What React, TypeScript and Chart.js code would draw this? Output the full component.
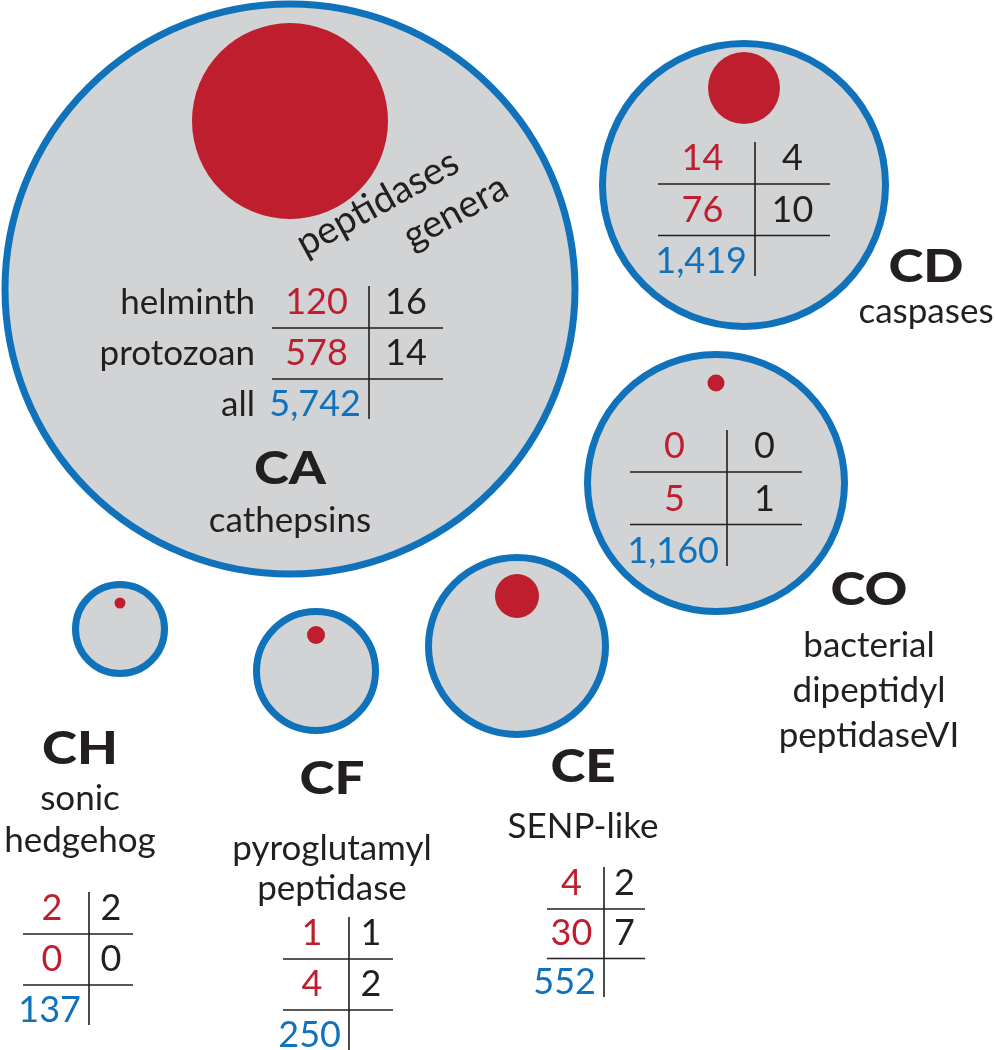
import React, { useEffect, useRef } from 'react';
import { Chart, registerables } from 'chart.js';

Chart.register(...registerables);

// ---------- data ----------
const families = ['CA', 'CD', 'CO', 'CE', 'CF', 'CH'];
const familyNames = [
  ['cathepsins'],
  ['caspases'],
  ['bacterial', 'dipeptidyl', 'peptidaseVI'],
  ['SENP-like'],
  ['pyroglutamyl', 'peptidase'],
  ['sonic', 'hedgehog'],
];
const helminthPeptidases = [120, 14, 0, 4, 1, 2];
const protozoanPeptidases = [578, 76, 5, 30, 4, 0];
const helminthGenera = [16, 4, 0, 2, 1, 2];
const protozoanGenera = [14, 10, 1, 7, 2, 0];
const allPeptidases = [5742, 1419, 1160, 552, 250, 137];
const rowLabels = ['helminth', 'protozoan', 'all'];
const columnHeaders = ['peptidases', 'genera'];

// ---------- layout (pixels in a 995 x 1050 frame) ----------
const circleX = [290, 744, 716, 517, 316, 120];
const circleY = [289, 185, 483, 646, 671, 629];
const circleR = [285, 141.5, 128.5, 88.5, 59.5, 44.5];
const dotY = [121, 88, 383, 596, 635, 603];
const dotR = [98, 36, 8.5, 22, 9, 5.5];
const tableX = [369, 755, 727, 604, 349, 89];
const tableL = [272, 658, 630, 547, 283, 23];
const tableR = [443, 830, 802, 645, 393, 133];
const tableTop = [314, 170, 458, 895, 945, 920];
const tablePitch = [51, 51.5, 52.5, 49.5, 51, 51];
const codeX = [290, 926, 869, 583, 332, 80];
const codeY = [484, 282, 605, 782, 794, 764];
const nameY = [532, 323, 657, 838, 860, 810];
const nameGap = [0, 0, 45, 0, 40, 42];
const headerX = [305, 412];
const headerY = [257, 250];

const RED = '#be1e2d';
const BLUE = '#0f72ba';
const GRAY = '#d1d3d4';
const INK = '#231f20';
const FONT = 'Lato, "Open Sans", "Noto Sans", sans-serif';

const textPlugin = {
  id: 'peptidaseText',
  afterDatasetsDraw(chart: any) {
    const ctx = chart.ctx as CanvasRenderingContext2D;
    const xs = chart.scales.x;
    const ys = chart.scales.y;
    const px = (v: number) => xs.getPixelForValue(v);
    const py = (v: number) => ys.getPixelForValue(v);
    const fmt = (n: number) => n.toLocaleString('en-US');

    ctx.save();
    ctx.textBaseline = 'alphabetic';
    families.forEach((code, i) => {
      const vx = px(tableX[i]);
      const l = px(tableL[i]);
      const r = px(tableR[i]);
      const p = tablePitch[i];
      const b = [py(tableTop[i]), py(tableTop[i] + p), py(tableTop[i] + 2 * p)];

      // grid lines
      ctx.strokeStyle = INK;
      ctx.lineWidth = 1.6;
      ctx.beginPath();
      ctx.moveTo(l, b[0] + 14);
      ctx.lineTo(r, b[0] + 14);
      ctx.moveTo(l, b[1] + 14);
      ctx.lineTo(r, b[1] + 14);
      ctx.moveTo(vx, b[0] - 28);
      ctx.lineTo(vx, b[2] + 3);
      ctx.stroke();

      ctx.font = `400 36px ${FONT}`;
      const lc = (l + vx) / 2 - 4;
      const rc = (vx + r) / 2;
      ctx.textAlign = 'center';
      ctx.fillStyle = RED;
      ctx.fillText(String(helminthPeptidases[i]), lc, b[0]);
      ctx.fillText(String(protozoanPeptidases[i]), lc, b[1]);
      ctx.fillStyle = INK;
      ctx.fillText(String(helminthGenera[i]), rc, b[0]);
      ctx.fillText(String(protozoanGenera[i]), rc, b[1]);
      ctx.textAlign = 'right';
      ctx.fillStyle = BLUE;
      ctx.fillText(fmt(allPeptidases[i]), vx - 8, b[2]);

      if (i === 0) {
        ctx.fillStyle = INK;
        ctx.font = `400 35px ${FONT}`;
        ctx.textAlign = 'right';
        rowLabels.forEach((lab, k) => ctx.fillText(lab, l - 17, b[k]));
        ctx.textAlign = 'left';
        ctx.font = `400 38px ${FONT}`;
        const ang = -29 * Math.PI / 180;
        columnHeaders.forEach((h, k) => {
          ctx.save();
          ctx.translate(px(headerX[k]), py(headerY[k]));
          ctx.rotate(ang);
          ctx.fillText(h, 0, 0);
          ctx.restore();
        });
      }

      // family code
      ctx.save();
      ctx.fillStyle = INK;
      ctx.translate(px(codeX[i]), py(codeY[i]));
      ctx.scale(1.15, 1);
      ctx.font = `900 46px ${FONT}`;
      ctx.textAlign = 'center';
      ctx.fillText(code, 0, 0);
      ctx.restore();

      // family name lines
      ctx.fillStyle = INK;
      ctx.font = `400 35px ${FONT}`;
      ctx.textAlign = 'center';
      familyNames[i].forEach((line, k) => {
        ctx.fillText(line, px(codeX[i]), py(nameY[i] + k * nameGap[i]));
      });
    });
    ctx.restore();
  },
};

export default function App() {
  const ref = useRef<HTMLCanvasElement | null>(null);
  useEffect(() => {
    if (!ref.current) return;
    const chart = new Chart(ref.current, {
      type: 'bubble',
      data: {
        datasets: [
          {
            label: 'helminth peptidases',
            data: families.map((_, i) => ({ x: circleX[i], y: dotY[i], r: dotR[i] })),
            backgroundColor: RED,
            borderWidth: 0,
            hoverRadius: 0,
            clip: false as any,
          },
          {
            label: 'all peptidases',
            data: families.map((_, i) => ({ x: circleX[i], y: circleY[i], r: circleR[i] })),
            backgroundColor: GRAY,
            borderColor: BLUE,
            borderWidth: 7,
            hoverRadius: 0,
            clip: false as any,
          },
        ],
      },
      options: {
        animation: false,
        responsive: false,
        devicePixelRatio: 1,
        events: [],
        layout: { padding: 0, autoPadding: false },
        scales: {
          x: { type: 'linear', min: 0, max: 995, display: false },
          y: { type: 'linear', min: 0, max: 1050, reverse: true, display: false },
        },
        plugins: { legend: { display: false }, tooltip: { enabled: false } },
      },
      plugins: [textPlugin],
    });
    return () => chart.destroy();
  }, []);
  return (
    <div style={{ position: 'absolute', left: 0, top: 0, width: 995, height: 1050, background: '#fff' }}>
      <canvas ref={ref} width={995} height={1050} style={{ display: 'block' }} />
    </div>
  );
}
